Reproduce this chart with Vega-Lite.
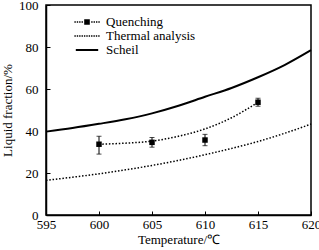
{
  "$schema": "https://vega.github.io/schema/vega-lite/v6.json",
  "autosize": "none",
  "padding": {"left": 46, "top": 5, "right": 8, "bottom": 35},
  "width": 265,
  "height": 210,
  "config": {
    "font": "Liberation Serif",
    "view": {"stroke": "#000", "strokeWidth": 1.5},
    "axis": {"grid": false, "domainColor": "#000", "domainWidth": 1.5, "tickColor": "#000", "labelColor": "#000", "titleColor": "#000", "labelFont": "Liberation Serif", "titleFont": "Liberation Serif", "labelFontSize": 13, "titleFontSize": 13, "titleFontWeight": "normal"},
    "legend": {"labelFont": "Liberation Serif", "labelFontSize": 13, "labelColor": "#000"}
  },
  "datasets": {
    "lines": [
      {"series": "Scheil", "t": 595, "f": 39.7},
      {"series": "Scheil", "t": 597.5, "f": 41.4},
      {"series": "Scheil", "t": 600, "f": 43.4},
      {"series": "Scheil", "t": 602.5, "f": 45.6},
      {"series": "Scheil", "t": 605, "f": 48.4},
      {"series": "Scheil", "t": 607.5, "f": 52.0},
      {"series": "Scheil", "t": 610, "f": 56.3},
      {"series": "Scheil", "t": 612.5, "f": 60.5},
      {"series": "Scheil", "t": 615, "f": 65.6},
      {"series": "Scheil", "t": 617.5, "f": 71.4},
      {"series": "Scheil", "t": 620, "f": 78.5},
      {"series": "Thermal analysis", "t": 595, "f": 16.5},
      {"series": "Thermal analysis", "t": 597.5, "f": 18.0},
      {"series": "Thermal analysis", "t": 600, "f": 19.6},
      {"series": "Thermal analysis", "t": 602.5, "f": 21.5},
      {"series": "Thermal analysis", "t": 605, "f": 23.6},
      {"series": "Thermal analysis", "t": 607.5, "f": 26.0},
      {"series": "Thermal analysis", "t": 610, "f": 28.7},
      {"series": "Thermal analysis", "t": 612.5, "f": 31.7},
      {"series": "Thermal analysis", "t": 615, "f": 35.0},
      {"series": "Thermal analysis", "t": 617.5, "f": 38.9},
      {"series": "Thermal analysis", "t": 620, "f": 43.3},
      {"series": "Quenching", "t": 600, "f": 33.7},
      {"series": "Quenching", "t": 602.5, "f": 34.2},
      {"series": "Quenching", "t": 605, "f": 35.2},
      {"series": "Quenching", "t": 607.5, "f": 37.5},
      {"series": "Quenching", "t": 610, "f": 41.0},
      {"series": "Quenching", "t": 612.5, "f": 46.3},
      {"series": "Quenching", "t": 615, "f": 53.7}
    ],
    "points": [
      {"t": 600, "f": 33.7, "lo": 29.0, "hi": 37.5},
      {"t": 605, "f": 34.6, "lo": 32.3, "hi": 36.9},
      {"t": 610, "f": 35.7, "lo": 33.0, "hi": 38.4},
      {"t": 615, "f": 53.7, "lo": 51.8, "hi": 55.6}
    ]
  },
  "layer": [
    {
      "data": {"name": "lines"},
      "transform": [{"filter": "datum.series === 'Scheil'"}],
      "mark": {"type": "line", "color": "#000", "strokeWidth": 2, "interpolate": "monotone"},
      "encoding": {
        "x": {"field": "t", "type": "quantitative", "scale": {"domain": [595, 620], "nice": false}, "axis": {"values": [595, 600, 605, 610, 615, 620], "title": "Temperature/℃", "tickSize": -4, "labelPadding": 7, "titlePadding": 2, "labelFlush": false}},
        "y": {"field": "f", "type": "quantitative", "scale": {"domain": [0, 100], "nice": false}, "axis": {"values": [0, 20, 40, 60, 80, 100], "title": "Liquid fraction/%", "tickSize": -4, "labelPadding": 12, "titlePadding": 4, "labelFlush": false}}
      }
    },
    {
      "data": {"name": "lines"},
      "transform": [{"filter": "datum.series !== 'Scheil'"}],
      "mark": {"type": "line", "color": "#000", "strokeWidth": 1.5, "strokeDash": [1.5, 1.8], "interpolate": "monotone"},
      "encoding": {
        "x": {"field": "t", "type": "quantitative"},
        "y": {"field": "f", "type": "quantitative"},
        "detail": {"field": "series"}
      }
    },
    {
      "data": {"name": "lines"},
      "mark": {"type": "point", "opacity": 0, "filled": true, "color": "#000"},
      "encoding": {
        "x": {"field": "t", "type": "quantitative"},
        "y": {"field": "f", "type": "quantitative"},
        "shape": {
          "field": "series", "type": "nominal",
          "scale": {
            "domain": ["Quenching", "Thermal analysis", "Scheil"],
            "range": [
              "M-1.8,-0.1h0.2v0.2h-0.2zM-1.46,-0.1h0.2v0.2h-0.2zM-1.12,-0.1h0.2v0.2h-0.2zM-0.78,-0.1h0.2v0.2h-0.2zM0.6,-0.1h0.2v0.2h-0.2zM0.94,-0.1h0.2v0.2h-0.2zM1.28,-0.1h0.2v0.2h-0.2zM1.62,-0.1h0.2v0.2h-0.2zM-0.4,-0.4h0.8v0.8h-0.8z",
              "M-1.8,-0.1h0.2v0.2h-0.2zM-1.46,-0.1h0.2v0.2h-0.2zM-1.12,-0.1h0.2v0.2h-0.2zM-0.78,-0.1h0.2v0.2h-0.2zM-0.44,-0.1h0.2v0.2h-0.2zM-0.1,-0.1h0.2v0.2h-0.2zM0.24,-0.1h0.2v0.2h-0.2zM0.58,-0.1h0.2v0.2h-0.2zM0.92,-0.1h0.2v0.2h-0.2zM1.26,-0.1h0.2v0.2h-0.2zM1.6,-0.1h0.2v0.2h-0.2z",
              "M-1.6,-0.14H1.6V0.14H-1.6z"
            ]
          },
          "legend": {
            "title": null, "orient": "none", "legendX": 34, "legendY": 10,
            "symbolSize": 196, "symbolStrokeColor": "#000", "symbolFillColor": "#000",
            "symbolStrokeWidth": 0, "symbolOpacity": 1, "labelOffset": 12, "rowPadding": 0, "padding": 0
          }
        }
      }
    },
    {
      "data": {"name": "points"},
      "mark": {"type": "rule", "color": "#000", "strokeWidth": 1},
      "encoding": {
        "x": {"field": "t", "type": "quantitative"},
        "y": {"field": "lo", "type": "quantitative"},
        "y2": {"field": "hi"}
      }
    },
    {
      "data": {"name": "points"},
      "mark": {"type": "tick", "color": "#000", "orient": "horizontal", "size": 5, "thickness": 1},
      "encoding": {
        "x": {"field": "t", "type": "quantitative"},
        "y": {"field": "lo", "type": "quantitative"}
      }
    },
    {
      "data": {"name": "points"},
      "mark": {"type": "tick", "color": "#000", "orient": "horizontal", "size": 5, "thickness": 1},
      "encoding": {
        "x": {"field": "t", "type": "quantitative"},
        "y": {"field": "hi", "type": "quantitative"}
      }
    },
    {
      "data": {"name": "points"},
      "mark": {"type": "square", "color": "#000", "filled": true, "size": 30, "opacity": 1},
      "encoding": {
        "x": {"field": "t", "type": "quantitative"},
        "y": {"field": "f", "type": "quantitative"}
      }
    }
  ]
}
